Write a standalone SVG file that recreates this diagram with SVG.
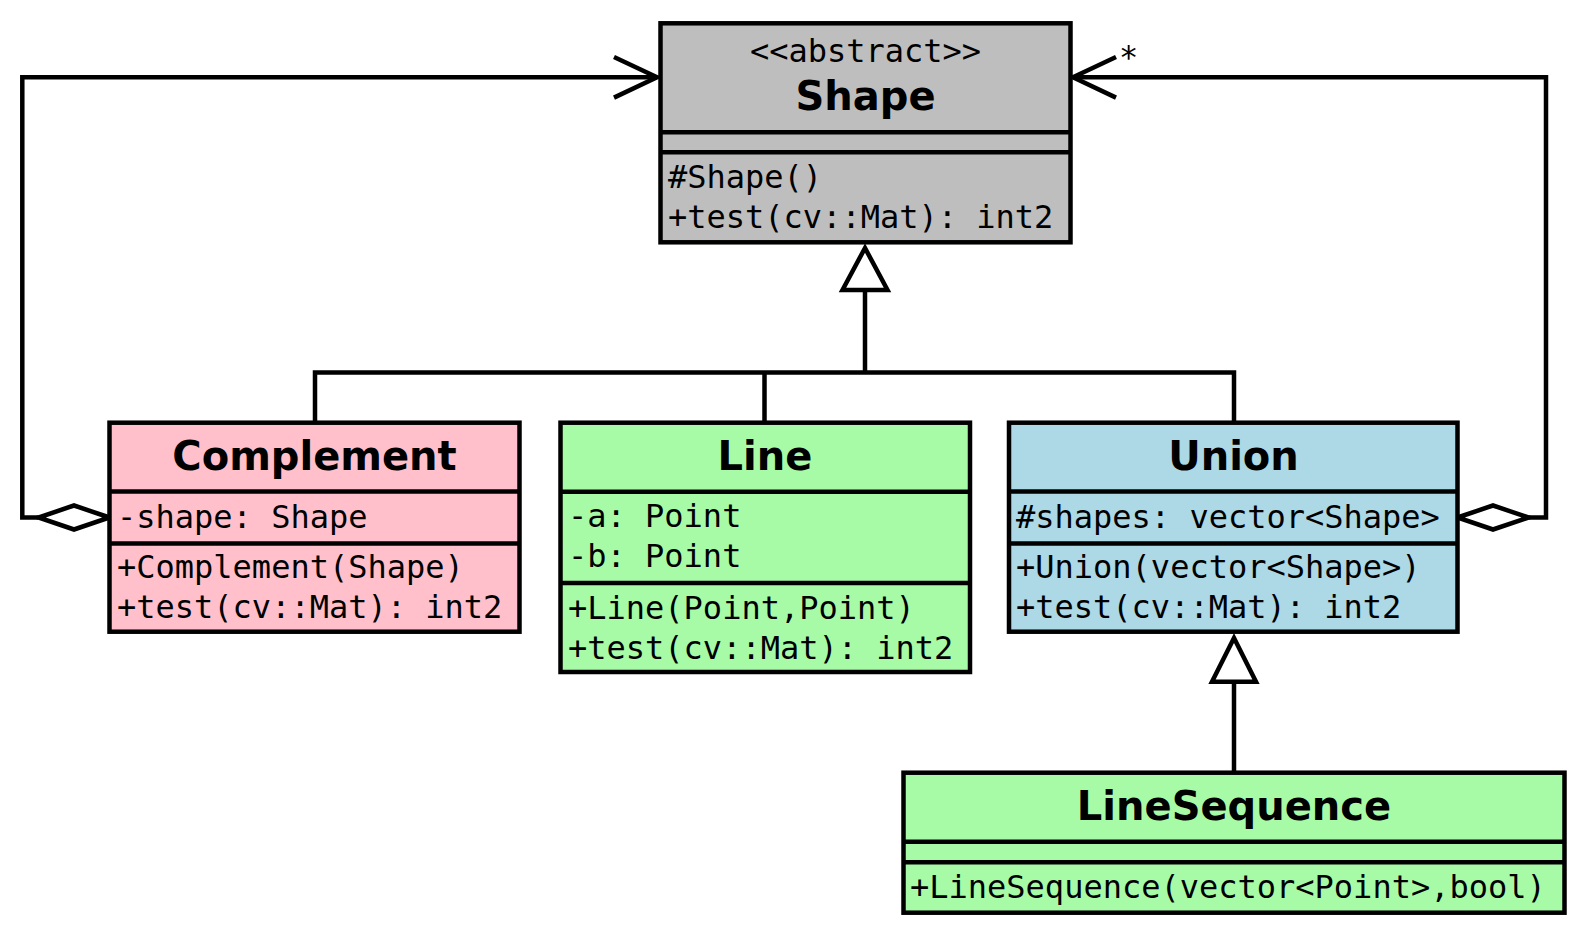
<svg xmlns="http://www.w3.org/2000/svg" width="1587" height="935" viewBox="0 0 1587 935">
<style>
.box{stroke:#000;stroke-width:4.5}
.sep{stroke:#000;stroke-width:4.5;fill:none}
.t{font-family:"DejaVu Sans","Liberation Sans",sans-serif;font-weight:bold;font-size:40px;text-anchor:middle;fill:#000}
.m{font-family:"DejaVu Sans Mono","Liberation Mono",monospace;font-size:32px;fill:#000}
.mc{font-family:"DejaVu Sans Mono","Liberation Mono",monospace;font-size:32px;fill:#000;text-anchor:middle}
.c{stroke:#000;stroke-width:4.5;fill:none;stroke-linejoin:miter}
.tri{stroke:#000;stroke-width:4.5;fill:#fff}
.gray{fill:#bebebe}.pink{fill:#ffc0cb}.green{fill:#a7fba7}.blue{fill:#add8e6}
</style>
<rect width="1587" height="935" fill="#fff"/>
<g id="connectors">
  <path class="c" d="M865,372.5 V290"/>
  <path class="c" d="M315,422.7 V372.5 H1234 V422.7 M764.5,372.5 V422.7"/>
  <polygon class="tri" points="865,248 842.5,290 887.5,290"/>
  <path class="c" d="M1234,772.7 V681.7"/>
  <polygon class="tri" points="1234,638 1212,681.7 1256,681.7"/>
  <path class="c" d="M38.5,517.5 H22.3 V77.3 H657"/>
  <path class="c" d="M614,57 L657,77.3 L614,97.6"/>
  <polygon class="tri" points="109.5,517.5 74,505.5 38.5,517.5 74,529.5"/>
  <path class="c" d="M1528.5,517.5 H1546 V77.3 H1073"/>
  <path class="c" d="M1116,57 L1073,77.3 L1116,97.6"/>
  <polygon class="tri" points="1457.5,517.5 1493,505.5 1528.5,517.5 1493,529.5"/>
  <text class="m" x="1119" y="68">*</text>
</g>
<g id="Shape">
  <rect class="box gray" x="660.5" y="23.3" width="410" height="219"/>
  <path class="sep" d="M660.5,132.2 H1070.5 M660.5,152.2 H1070.5"/>
  <text class="mc" x="865.5" y="62">&lt;&lt;abstract&gt;&gt;</text>
  <text class="t" x="865.5" y="110">Shape</text>
  <text class="m" x="668" y="188">#Shape()</text>
  <text class="m" x="668" y="228">+test(cv::Mat): int2</text>
</g>
<g id="Complement">
  <rect class="box pink" x="109.5" y="422.7" width="410" height="209"/>
  <path class="sep" d="M109.5,491.5 H519.5 M109.5,543.5 H519.5"/>
  <text class="t" x="314.5" y="470">Complement</text>
  <text class="m" x="117" y="528">-shape: Shape</text>
  <text class="m" x="117" y="578">+Complement(Shape)</text>
  <text class="m" x="117" y="618">+test(cv::Mat): int2</text>
</g>
<g id="Line">
  <rect class="box green" x="560.5" y="422.7" width="409.5" height="249.3"/>
  <path class="sep" d="M560.5,491.7 H970 M560.5,583 H970"/>
  <text class="t" x="765" y="470">Line</text>
  <text class="m" x="568" y="527">-a: Point</text>
  <text class="m" x="568" y="567">-b: Point</text>
  <text class="m" x="568" y="619">+Line(Point,Point)</text>
  <text class="m" x="568" y="659">+test(cv::Mat): int2</text>
</g>
<g id="Union">
  <rect class="box blue" x="1009" y="422.7" width="448.5" height="209"/>
  <path class="sep" d="M1009,491.5 H1457.5 M1009,543.5 H1457.5"/>
  <text class="t" x="1233.5" y="470">Union</text>
  <text class="m" x="1016" y="528">#shapes: vector&lt;Shape&gt;</text>
  <text class="m" x="1016" y="578">+Union(vector&lt;Shape&gt;)</text>
  <text class="m" x="1016" y="618">+test(cv::Mat): int2</text>
</g>
<g id="LineSequence">
  <rect class="box green" x="903.5" y="772.7" width="661" height="140"/>
  <path class="sep" d="M903.5,841.7 H1564.5 M903.5,862.3 H1564.5"/>
  <text class="t" x="1234" y="820">LineSequence</text>
  <text class="m" x="910" y="898">+LineSequence(vector&lt;Point&gt;,bool)</text>
</g>
</svg>
